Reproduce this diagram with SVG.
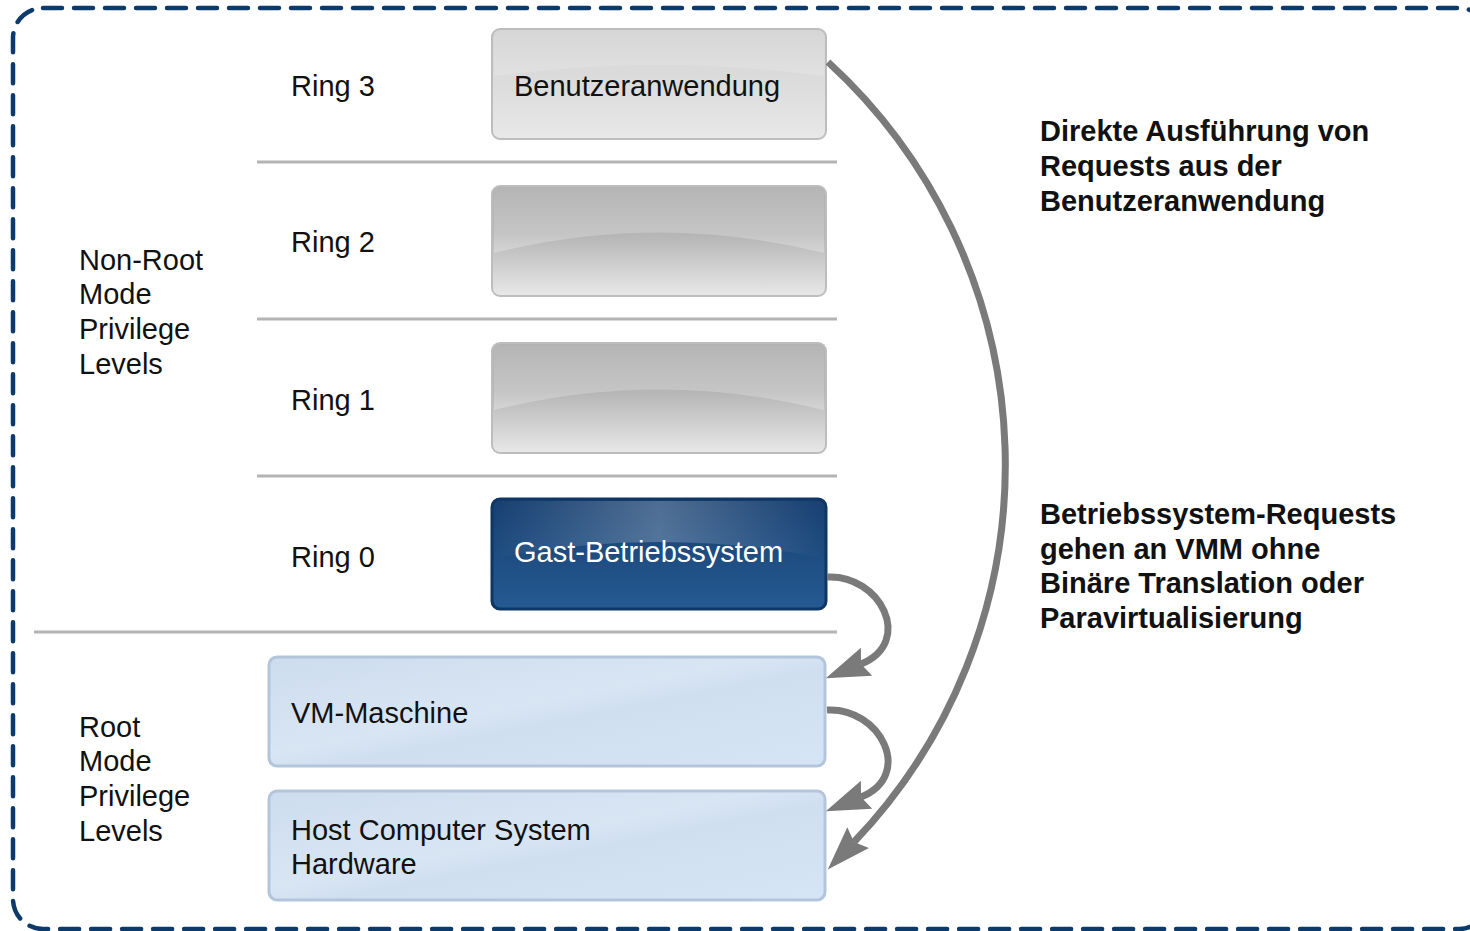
<svg xmlns="http://www.w3.org/2000/svg" width="1470" height="931" viewBox="0 0 1470 931">
  <defs>
    <style>
      .lbl { font-family: "Liberation Sans", Arial, sans-serif; font-size: 29px; fill: #111; }
      .note { font-family: "Liberation Sans", Arial, sans-serif; font-size: 29px; font-weight: bold; fill: #111; }
      .sep { stroke: #b4b4b4; stroke-width: 3; fill: none; }
      .conn { stroke: #7a7a7a; stroke-width: 7; fill: none; marker-end: url(#head); }
      .greyBox { stroke: #bdbdbd; stroke-width: 2; }
      .blueBox { fill: url(#lightBlue); stroke: #b3c5db; stroke-width: 3; }
    </style>
    <linearGradient id="paleGrey" x1="0" y1="0" x2="0" y2="1">
      <stop offset="0" stop-color="#d5d5d5"/>
      <stop offset="0.5" stop-color="#dcdcdc"/>
      <stop offset="1" stop-color="#e8e8e8"/>
    </linearGradient>
    <linearGradient id="midGrey" x1="0" y1="0" x2="0" y2="1">
      <stop offset="0" stop-color="#b2b2b2"/>
      <stop offset="0.45" stop-color="#b6b6b6"/>
      <stop offset="1" stop-color="#e8e8e8"/>
    </linearGradient>
    <linearGradient id="glossV" x1="0" y1="0" x2="0" y2="1">
      <stop offset="0" stop-color="#ffffff" stop-opacity="0.04"/>
      <stop offset="1" stop-color="#ffffff" stop-opacity="0.28"/>
    </linearGradient>
    <linearGradient id="navy" x1="0" y1="0" x2="0" y2="1">
      <stop offset="0" stop-color="#173f70"/>
      <stop offset="1" stop-color="#255a92"/>
    </linearGradient>
    <linearGradient id="glossH" x1="0" y1="0" x2="1" y2="0">
      <stop offset="0" stop-color="#ffffff" stop-opacity="0"/>
      <stop offset="0.5" stop-color="#ffffff" stop-opacity="0.24"/>
      <stop offset="1" stop-color="#ffffff" stop-opacity="0"/>
    </linearGradient>
    <linearGradient id="lightBlue" x1="0" y1="0" x2="1" y2="1">
      <stop offset="0" stop-color="#cddcee"/>
      <stop offset="0.45" stop-color="#d8e5f3"/>
      <stop offset="0.55" stop-color="#d0dff0"/>
      <stop offset="1" stop-color="#d6e5f6"/>
    </linearGradient>
    <marker id="head" markerUnits="userSpaceOnUse" markerWidth="46" markerHeight="32" viewBox="0 0 46 32" refX="6" refY="16" orient="auto">
      <path d="M0,1 L44,16 L0,31 L6,16 z" fill="#7a7a7a"/>
    </marker>
  </defs>

  <rect x="0" y="0" width="1470" height="931" fill="#ffffff"/>

  <!-- dashed frame -->
  <rect x="13" y="8" width="1476" height="921" rx="30" fill="none" stroke="#0b3a6b" stroke-width="4.5" stroke-dasharray="19 12" stroke-linecap="round"/>

  <!-- level separators -->
  <g id="separators">
    <line class="sep" x1="257" y1="162" x2="837" y2="162"/>
    <line class="sep" x1="257" y1="319" x2="837" y2="319"/>
    <line class="sep" x1="257" y1="476" x2="837" y2="476"/>
    <line class="sep" x1="34" y1="632" x2="837" y2="632"/>
  </g>

  <!-- privilege level captions -->
  <g id="nonroot-label">
    <text class="lbl" x="79" y="270">Non-Root</text>
    <text class="lbl" x="79" y="304">Mode</text>
    <text class="lbl" x="79" y="339">Privilege</text>
    <text class="lbl" x="79" y="374">Levels</text>
  </g>
  <g id="root-label">
    <text class="lbl" x="79" y="737">Root</text>
    <text class="lbl" x="79" y="771">Mode</text>
    <text class="lbl" x="79" y="806">Privilege</text>
    <text class="lbl" x="79" y="841">Levels</text>
  </g>

  <g id="ring-labels">
    <text class="lbl" x="291" y="96">Ring 3</text>
    <text class="lbl" x="291" y="252">Ring 2</text>
    <text class="lbl" x="291" y="410">Ring 1</text>
    <text class="lbl" x="291" y="567">Ring 0</text>
  </g>

  <!-- ring boxes -->
  <g id="ring3">
    <rect class="greyBox" x="492" y="29" width="334" height="110" rx="8" fill="url(#paleGrey)"/>
    <path d="M494,76 Q659,54 824,76 L824,37 Q824,31 818,31 L500,31 Q494,31 494,37 z" fill="url(#glossV)" opacity="0.6"/>
    <text class="lbl" x="514" y="96">Benutzeranwendung</text>
  </g>
  <g id="ring2">
    <rect class="greyBox" x="492" y="186" width="334" height="110" rx="8" fill="url(#midGrey)"/>
    <path d="M494,253 Q659,212 824,253 L824,194 Q824,188 818,188 L500,188 Q494,188 494,194 z" fill="url(#glossV)"/>
  </g>
  <g id="ring1">
    <rect class="greyBox" x="492" y="343" width="334" height="110" rx="8" fill="url(#midGrey)"/>
    <path d="M494,410 Q659,369 824,410 L824,351 Q824,345 818,345 L500,345 Q494,345 494,351 z" fill="url(#glossV)"/>
  </g>
  <g id="ring0">
    <rect x="492" y="499" width="334" height="110" rx="8" fill="url(#navy)" stroke="#0e3765" stroke-width="3"/>
    <path d="M494,558 Q659,526 824,558 L824,507 Q824,501 818,501 L500,501 Q494,501 494,507 z" fill="url(#glossH)"/>
    <text class="lbl" x="514" y="562" style="fill:#ffffff">Gast-Betriebssystem</text>
  </g>

  <!-- root mode boxes -->
  <g id="vmm">
    <rect class="blueBox" x="269" y="657" width="556" height="109" rx="8"/>
    <text class="lbl" x="291" y="723">VM-Maschine</text>
  </g>
  <g id="hardware">
    <rect class="blueBox" x="269" y="791" width="556" height="109" rx="8"/>
    <text class="lbl" x="291" y="840">Host Computer System</text>
    <text class="lbl" x="291" y="874">Hardware</text>
  </g>

  <!-- request paths -->
  <g id="connectors">
    <path class="conn" d="M828,62 A546,546 0 0 1 854,842"/>
    <path class="conn" d="M827,577 C880,574 915,642 861,664"/>
    <path class="conn" d="M827,710 C880,707 915,775 861,797"/>
  </g>

  <!-- annotations -->
  <g id="note-direct">
    <text class="note" x="1040" y="141">Direkte Ausführung von</text>
    <text class="note" x="1040" y="176">Requests aus der</text>
    <text class="note" x="1040" y="211">Benutzeranwendung</text>
  </g>
  <g id="note-os">
    <text class="note" x="1040" y="524">Betriebssystem-Requests</text>
    <text class="note" x="1040" y="559">gehen an VMM ohne</text>
    <text class="note" x="1040" y="593">Binäre Translation oder</text>
    <text class="note" x="1040" y="628">Paravirtualisierung</text>
  </g>
</svg>
